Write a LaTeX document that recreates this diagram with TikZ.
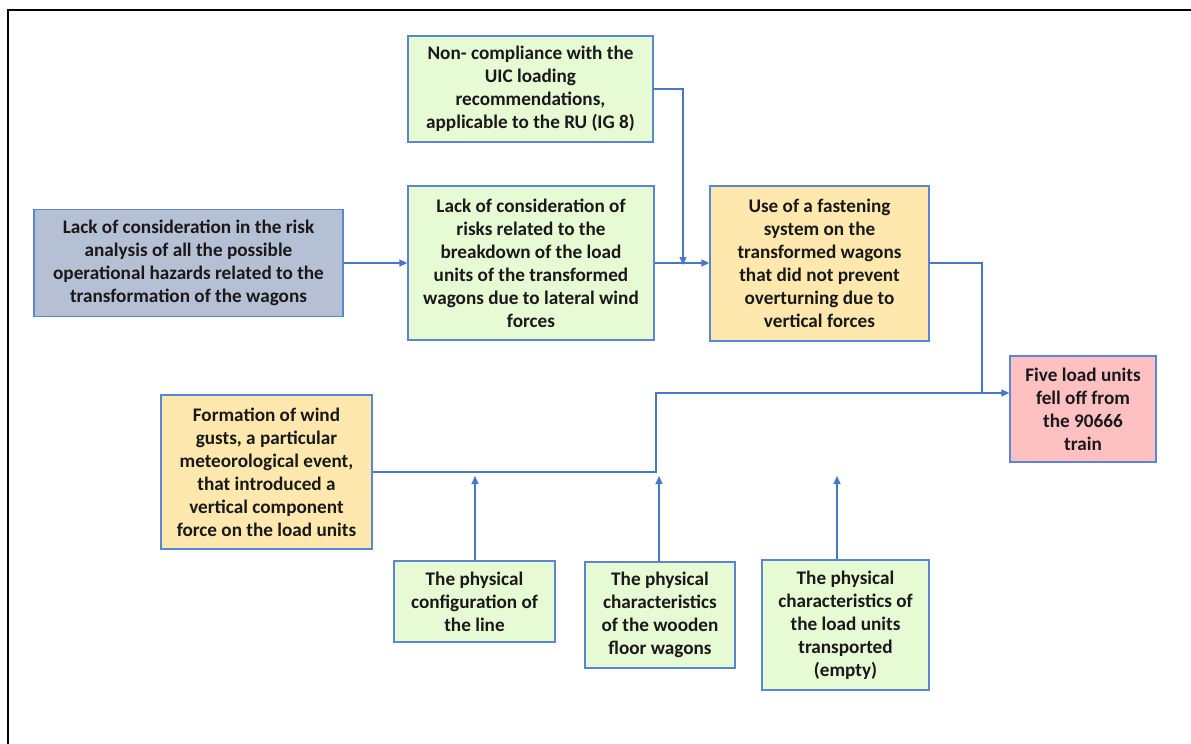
\documentclass[tikz,border=0pt]{standalone}
\usepackage{fontspec}
\setmainfont{Carlito}
\usetikzlibrary{arrows.meta}
\definecolor{bordc}{HTML}{5B86D4}
\definecolor{linec}{HTML}{4A76C8}
\definecolor{grayb}{HTML}{B5C0D4}
\definecolor{greenb}{HTML}{E6FAD4}
\definecolor{yellb}{HTML}{FFE8AE}
\definecolor{pinkb}{HTML}{FFC0C2}
\tikzset{
  boxs/.style={draw=bordc, line width=1.3pt, rectangle, align=center, inner sep=2pt,
    font=\fontsize{19.2}{23}\selectfont\bfseries, text=black!90},
  conn/.style={draw=linec, line width=1.3pt},
  arr/.style={conn, -{Triangle[length=8pt,width=7pt]}},
}
\begin{document}
\begin{tikzpicture}[x=1pt,y=-1pt]
\useasboundingbox (0,0) rectangle (1191,744);
\draw[line width=2pt] (1195,10) -- (8,10) -- (8,748);
\node[boxs, fill=grayb, minimum width=309pt, minimum height=107pt] (risk) at (188.5,263)
  {Lack of consideration in the risk\\analysis of all the possible\\operational hazards related to the\\transformation of the wagons};
\node[boxs, fill=greenb, minimum width=245pt, minimum height=106pt] (uic) at (530.5,89)
  {Non- compliance with the\\UIC loading\\recommendations,\\applicable to the RU (IG 8)};
\node[boxs, fill=greenb, minimum width=246pt, minimum height=154pt] (lat) at (531,263)
  {Lack of consideration of\\risks related to the\\breakdown of the load\\units of the transformed\\wagons due to lateral wind\\forces};
\node[boxs, fill=yellb, minimum width=219pt, minimum height=155pt] (fast) at (819.5,263.5)
  {Use of a fastening\\system on the\\transformed wagons\\that did not prevent\\overturning due to\\vertical forces};
\node[boxs, fill=pinkb, minimum width=146pt, minimum height=106pt] (five) at (1083,409)
  {Five load units\\fell off from\\the 90666\\train};
\node[boxs, fill=yellb, minimum width=211pt, minimum height=154pt] (wind) at (266.5,472)
  {Formation of wind\\gusts, a particular\\meteorological event,\\that introduced a\\vertical component\\force on the load units};
\node[boxs, fill=greenb, minimum width=161pt, minimum height=81pt] (line) at (474.5,601.5)
  {The physical\\configuration of\\the line};
\node[boxs, fill=greenb, minimum width=150pt, minimum height=106pt] (wood) at (660,615)
  {The physical\\characteristics\\of the wooden\\floor wagons};
\node[boxs, fill=greenb, minimum width=167pt, minimum height=130pt] (units) at (845.5,625)
  {The physical\\characteristics of\\the load units\\transported\\(empty)};
\coordinate (j1) at (683,263);
\coordinate (j2) at (982,393);
\coordinate (j3) at (656,393);
\coordinate (t1) at (475,476);
\coordinate (t2) at (659,476);
\coordinate (t3) at (837,476);
\draw[arr] (risk.east) -- (lat.west |- risk.east);
\draw[arr] (lat.east) -- (fast.west |- lat.east);
\draw[arr] (uic.east |- 0,89) -| ([yshift=-2pt]j1);
\draw[conn] (fast.east |- j1) -| (j2);
\draw[arr] (wind.east) -| (j3) -- (five.west |- j3);
\draw[arr] (line.north -| t1) -- (t1);
\draw[arr] (wood.north -| t2) -- (t2);
\draw[arr] (units.north -| t3) -- (t3);
\end{tikzpicture}
\end{document}
